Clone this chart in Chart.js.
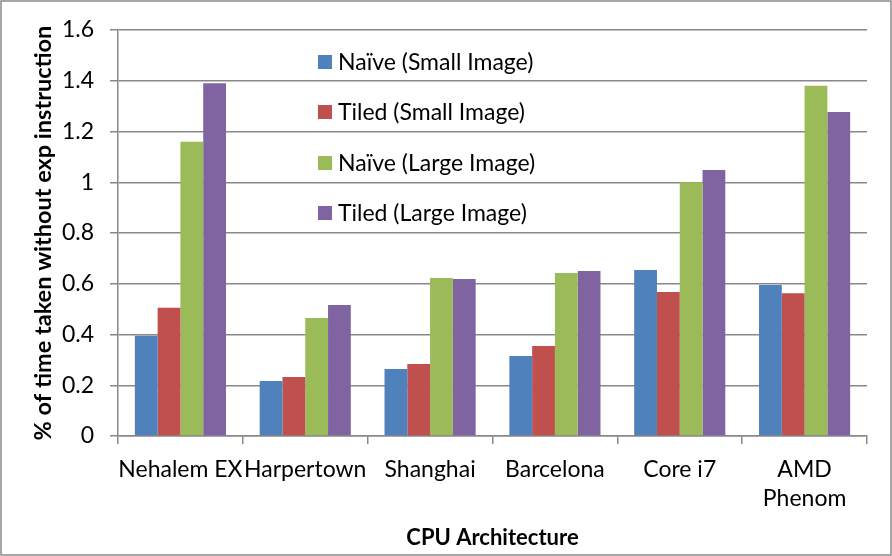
<!DOCTYPE html>
<html>
<head>
<meta charset="utf-8">
<script src="https://cdn.jsdelivr.net/npm/chart.js@4/dist/chart.umd.min.js"></script>
<style>
  html, body { margin: 0; padding: 0; background: #fff; }
  #wrap { width: 892px; height: 556px; position: relative; }
</style>
</head>
<body>
<div id="wrap"><canvas id="chart" width="892" height="556"></canvas></div>
<script>
// Données du graphique
const categories = ['Nehalem EX', 'Harpertown', 'Shanghai', 'Barcelona', 'Core i7', ['AMD', 'Phenom']];
const seriesNames = ['Naïve (Small Image)', 'Tiled (Small Image)', 'Naïve (Large Image)', 'Tiled (Large Image)'];
const naiveSmall = [0.395, 0.217, 0.264, 0.315, 0.654, 0.595];
const tiledSmall = [0.505, 0.233, 0.284, 0.355, 0.567, 0.563];
const naiveLarge = [1.16, 0.465, 0.623, 0.642, 1.0, 1.38];
const tiledLarge = [1.39, 0.516, 0.619, 0.65, 1.048, 1.277];
const yTicks = [0, 0.2, 0.4, 0.6, 0.8, 1, 1.2, 1.4, 1.6];

const colors = ['#4F81BD', '#C0504D', '#9BBB59', '#8064A2'];
const values = [naiveSmall, tiledSmall, naiveLarge, tiledLarge];
const fontFamily = 'Lato, "Open Sans", sans-serif';
const gridColor = '#888888';

// Fond blanc + cadre + légende dessinée à la main
const frame = {
    id: 'frame',
    beforeDraw(chart) {
        const c = chart.ctx;
        c.save();
        c.fillStyle = '#fff';
        c.fillRect(0, 0, chart.width, chart.height);
        c.restore();
    },
    afterDraw(chart) {
        const c = chart.ctx;
        c.save();
        c.strokeStyle = '#8a8a8a';
        c.lineWidth = 1.5;
        c.strokeRect(1, 1, chart.width - 2, chart.height - 2);

        c.font = '23px ' + fontFamily;
        c.textBaseline = 'middle';
        const ys = [62, 112, 163, 213];
        chart.data.datasets.forEach((ds, i) => {
            c.fillStyle = ds.backgroundColor;
            c.fillRect(318, ys[i] - 7, 14, 14);
            c.fillStyle = '#000';
            c.fillText(ds.label, 338, ys[i] + 1);
        });
        c.restore();
    }
};

new Chart(document.getElementById('chart'), {
    type: 'bar',
    data: {
        labels: categories,
        datasets: seriesNames.map((name, i) => ({
            label: name,
            data: values[i],
            backgroundColor: colors[i],
            borderWidth: 0,
            categoryPercentage: 0.73,
            barPercentage: 1
        }))
    },
    options: {
        responsive: false,
        animation: false,
        layout: { padding: { left: 0, right: 25, top: 30, bottom: 0 } },
        plugins: {
            legend: { display: false },
            tooltip: { enabled: false }
        },
        scales: {
            x: {
                grid: {
                    offset: true,
                    drawOnChartArea: false,
                    drawTicks: true,
                    tickLength: 8,
                    color: gridColor,
                    lineWidth: 1.5
                },
                border: { color: gridColor, width: 1.5 },
                ticks: {
                    color: '#000',
                    font: { family: fontFamily, size: 23, lineHeight: 1.25 },
                    padding: 11,
                    maxRotation: 0,
                    autoSkip: false
                },
                title: {
                    display: true,
                    text: 'CPU Architecture',
                    color: '#000',
                    font: { family: fontFamily, size: 22, weight: 'bold' },
                    padding: { top: 0, bottom: 5 }
                },
                afterFit(scale) { scale.height = 120; }
            },
            y: {
                min: 0,
                max: 1.6,
                afterBuildTicks(scale) { scale.ticks = yTicks.map(v => ({ value: v })); },
                grid: {
                    color: gridColor,
                    lineWidth: 1.5,
                    tickLength: 8
                },
                border: { color: gridColor, width: 1.5 },
                ticks: {
                    color: '#000',
                    font: { family: fontFamily, size: 23 },
                    padding: 16,
                    callback: (v) => String(Math.round(v * 10) / 10)
                },
                title: {
                    display: true,
                    text: '% of time taken without exp instruction',
                    color: '#000',
                    font: { family: fontFamily, size: 23.5, weight: 'bold' },
                    padding: { top: 29, bottom: 0 }
                },
                afterFit(scale) { scale.width = 118; }
            }
        }
    },
    plugins: [frame]
});
</script>
</body>
</html>
